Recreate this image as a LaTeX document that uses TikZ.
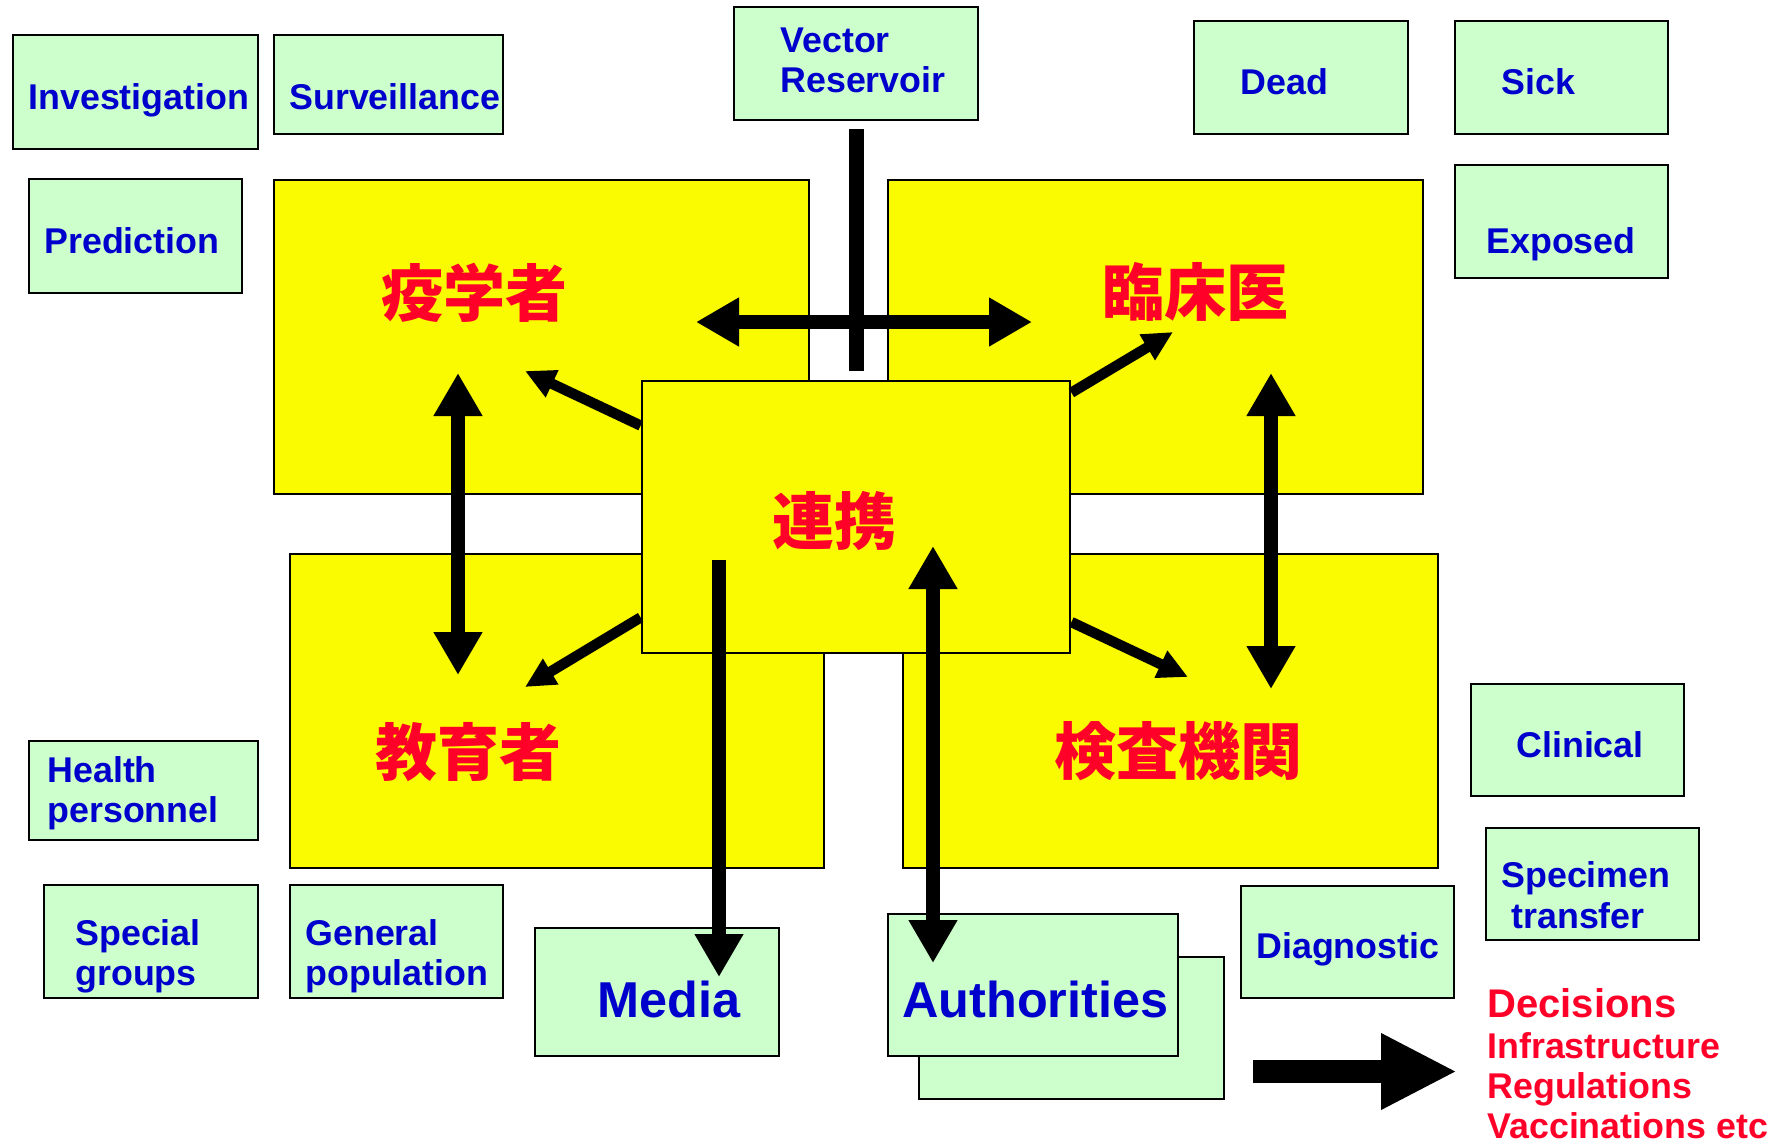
\documentclass[tikz,border=0pt]{standalone}
\usepackage{fontspec}
\setmainfont{Liberation Sans}
\newfontfamily\cjkfont{Noto Sans CJK JP}
\usetikzlibrary{arrows.meta}
\definecolor{gfill}{RGB}{204,255,204}
\definecolor{yfill}{RGB}{250,250,0}
\definecolor{tblue}{RGB}{0,0,204}
\definecolor{tred}{RGB}{255,0,40}
\newcommand\mybox[6]{\node[#6, minimum width={(#4-#2)*0.5pt}, minimum height={(#5-#3)*0.5pt}] (#1) at ({(#2+#4)/2},{(#3+#5)/2}) {};}
\begin{document}
\begin{tikzpicture}[x=0.5pt,y=-0.5pt,
  gbox/.style={draw=black, line width=1.4pt, fill=gfill, inner sep=0pt},
  ybox/.style={draw=black, line width=1.4pt, fill=yfill, inner sep=0pt},
  btxt/.style={text=tblue, font=\bfseries\fontsize{17.9}{20}\selectfont, anchor=base west, inner sep=0pt},
  bigtxt/.style={text=tblue, font=\bfseries\fontsize{25.2}{28}\selectfont, anchor=base west, inner sep=0pt},
  rtxt/.style={text=tred, font=\bfseries\fontsize{17.9}{20}\selectfont, anchor=base west, inner sep=0pt},
  rbig/.style={text=tred, font=\bfseries\fontsize{20}{24}\selectfont, anchor=base west, inner sep=0pt},
  jtxt/.style={text=tred, font=\cjkfont\bfseries\fontsize{31}{34}\selectfont, inner sep=0pt},
  dbl/.style={line width=7.25pt, {Triangle[length=21.5pt,width=23pt]}-{Triangle[length=21.5pt,width=23pt]}},
  sgl/.style={line width=7.25pt, -{Triangle[length=21.5pt,width=23pt]}},
  diag/.style={line width=5.2pt, -{Triangle[length=15pt,width=14pt]}},
  barline/.style={line width=7.5pt},
  fat/.style={line width=11.5pt, -{Triangle[length=38pt,width=35.5pt]}}]
\useasboundingbox (0,0) rectangle (1778,1142);
% green boxes
\mybox{inv}{13}{35}{258}{149}{gbox}
\mybox{surv}{274}{35}{503}{134}{gbox}
\mybox{pred}{29}{179}{242}{293}{gbox}
\mybox{vec}{734}{7}{978}{120}{gbox}
\mybox{dead}{1194}{21}{1408}{134}{gbox}
\mybox{sick}{1455}{21}{1668}{134}{gbox}
\mybox{expo}{1455}{165}{1668}{278}{gbox}
\mybox{health}{29}{741}{258}{840}{gbox}
\mybox{special}{44}{885}{258}{998}{gbox}
\mybox{general}{290}{885}{503}{998}{gbox}
\mybox{media}{535}{928}{779}{1056}{gbox}
\mybox{authb}{919}{957}{1224}{1099}{gbox}
\mybox{auth}{888}{914}{1178}{1056}{gbox}
\mybox{diag}{1241}{886}{1454}{998}{gbox}
\mybox{clin}{1471}{684}{1684}{796}{gbox}
\mybox{spec}{1486}{828}{1699}{940}{gbox}
% yellow boxes
\mybox{epi}{274}{180}{809}{494}{ybox}
\mybox{clinician}{888}{180}{1423}{494}{ybox}
\mybox{edu}{290}{554}{824}{868}{ybox}
\mybox{lab}{903}{554}{1438}{868}{ybox}
\mybox{center}{642}{381}{1070}{653}{ybox}
% texts
\node[btxt] (inv-t) at (28,109) {Investigation};
\node[btxt] (surv-t) at (289,109) {Surveillance};
\node[btxt] (pred-t) at (44,253) {Prediction};
\node[btxt] (vec-t1) at (780,52) {Vector};
\node[btxt] (vec-t2) at (780,92) {Reservoir};
\node[btxt] (dead-t) at (1240,94) {Dead};
\node[btxt] (sick-t) at (1501,94) {Sick};
\node[btxt] (expo-t) at (1486,253) {Exposed};
\node[btxt] (health-t1) at (47,782) {Health};
\node[btxt] (health-t2) at (47,822) {personnel};
\node[btxt] (special-t1) at (75,945) {Special};
\node[btxt] (special-t2) at (75,985) {groups};
\node[btxt] (general-t1) at (305,945) {General};
\node[btxt] (general-t2) at (305,985) {population};
\node[bigtxt] (media-t) at (597,1017) {Media};
\node[bigtxt] (auth-t) at (902,1017) {Authorities};
\node[btxt] (diag-t) at (1256,958) {Diagnostic};
\node[btxt] (clin-t) at (1516,757) {Clinical};
\node[btxt] (spec-t1) at (1501,887) {Specimen};
\node[btxt] (spec-t2) at (1511,928) {transfer};
\node[rbig] (dec-t) at (1487,1017) {Decisions};
\node[rtxt] (infra-t) at (1487,1058) {Infrastructure};
\node[rtxt] (reg-t) at (1487,1098) {Regulations};
\node[rtxt] (vacc-t) at (1487,1138) {Vaccinations etc};
\node[jtxt] (epi-t) at (474,293) {疫学者};
\node[jtxt] (clinician-t) at (1195,292) {臨床医};
\node[jtxt] (edu-t) at (468,752) {教育者};
\node[jtxt] (lab-t) at (1178,751) {検査機関};
\node[jtxt] (center-t) at (834,521) {連携};
% connector end points
\coordinate (hl) at (696,322);
\coordinate (hr) at (1032,322);
\coordinate (vl1) at (458,373);
\coordinate (vl2) at (458,675);
\coordinate (vr1) at (1271,373);
\coordinate (vr2) at (1271,689);
\coordinate (tepi) at (525,371);
\coordinate (tedu) at (525,687);
\coordinate (tcli) at (1173,332);
\coordinate (tlab) at (1188,677);
\coordinate (ms) at (719,560);
\coordinate (me) at (719,977);
\coordinate (as) at (933,546);
\coordinate (ae) at (933,963);
\coordinate (fs) at (1253,1071.5);
\coordinate (fe) at (1457,1071.5);
% connectors
\draw[barline, shorten <=4pt, shorten >=4.5pt] (vec.south) -- (vec.south |- center.north);
\draw[dbl] (hl) -- (hr);
\draw[dbl] (vl1) -- (vl2);
\draw[dbl] (vr1) -- (vr2);
\draw[diag] (center.157) -- (tepi);
\draw[diag] (center.205) -- (tedu);
\draw[diag] (center.30) -- (tcli);
\draw[diag] (center.334) -- (tlab);
\draw[sgl] (ms) -- (me);
\draw[dbl] (as) -- (ae);
\draw[fat] (fs) -- (fe);
\end{tikzpicture}
\end{document}
